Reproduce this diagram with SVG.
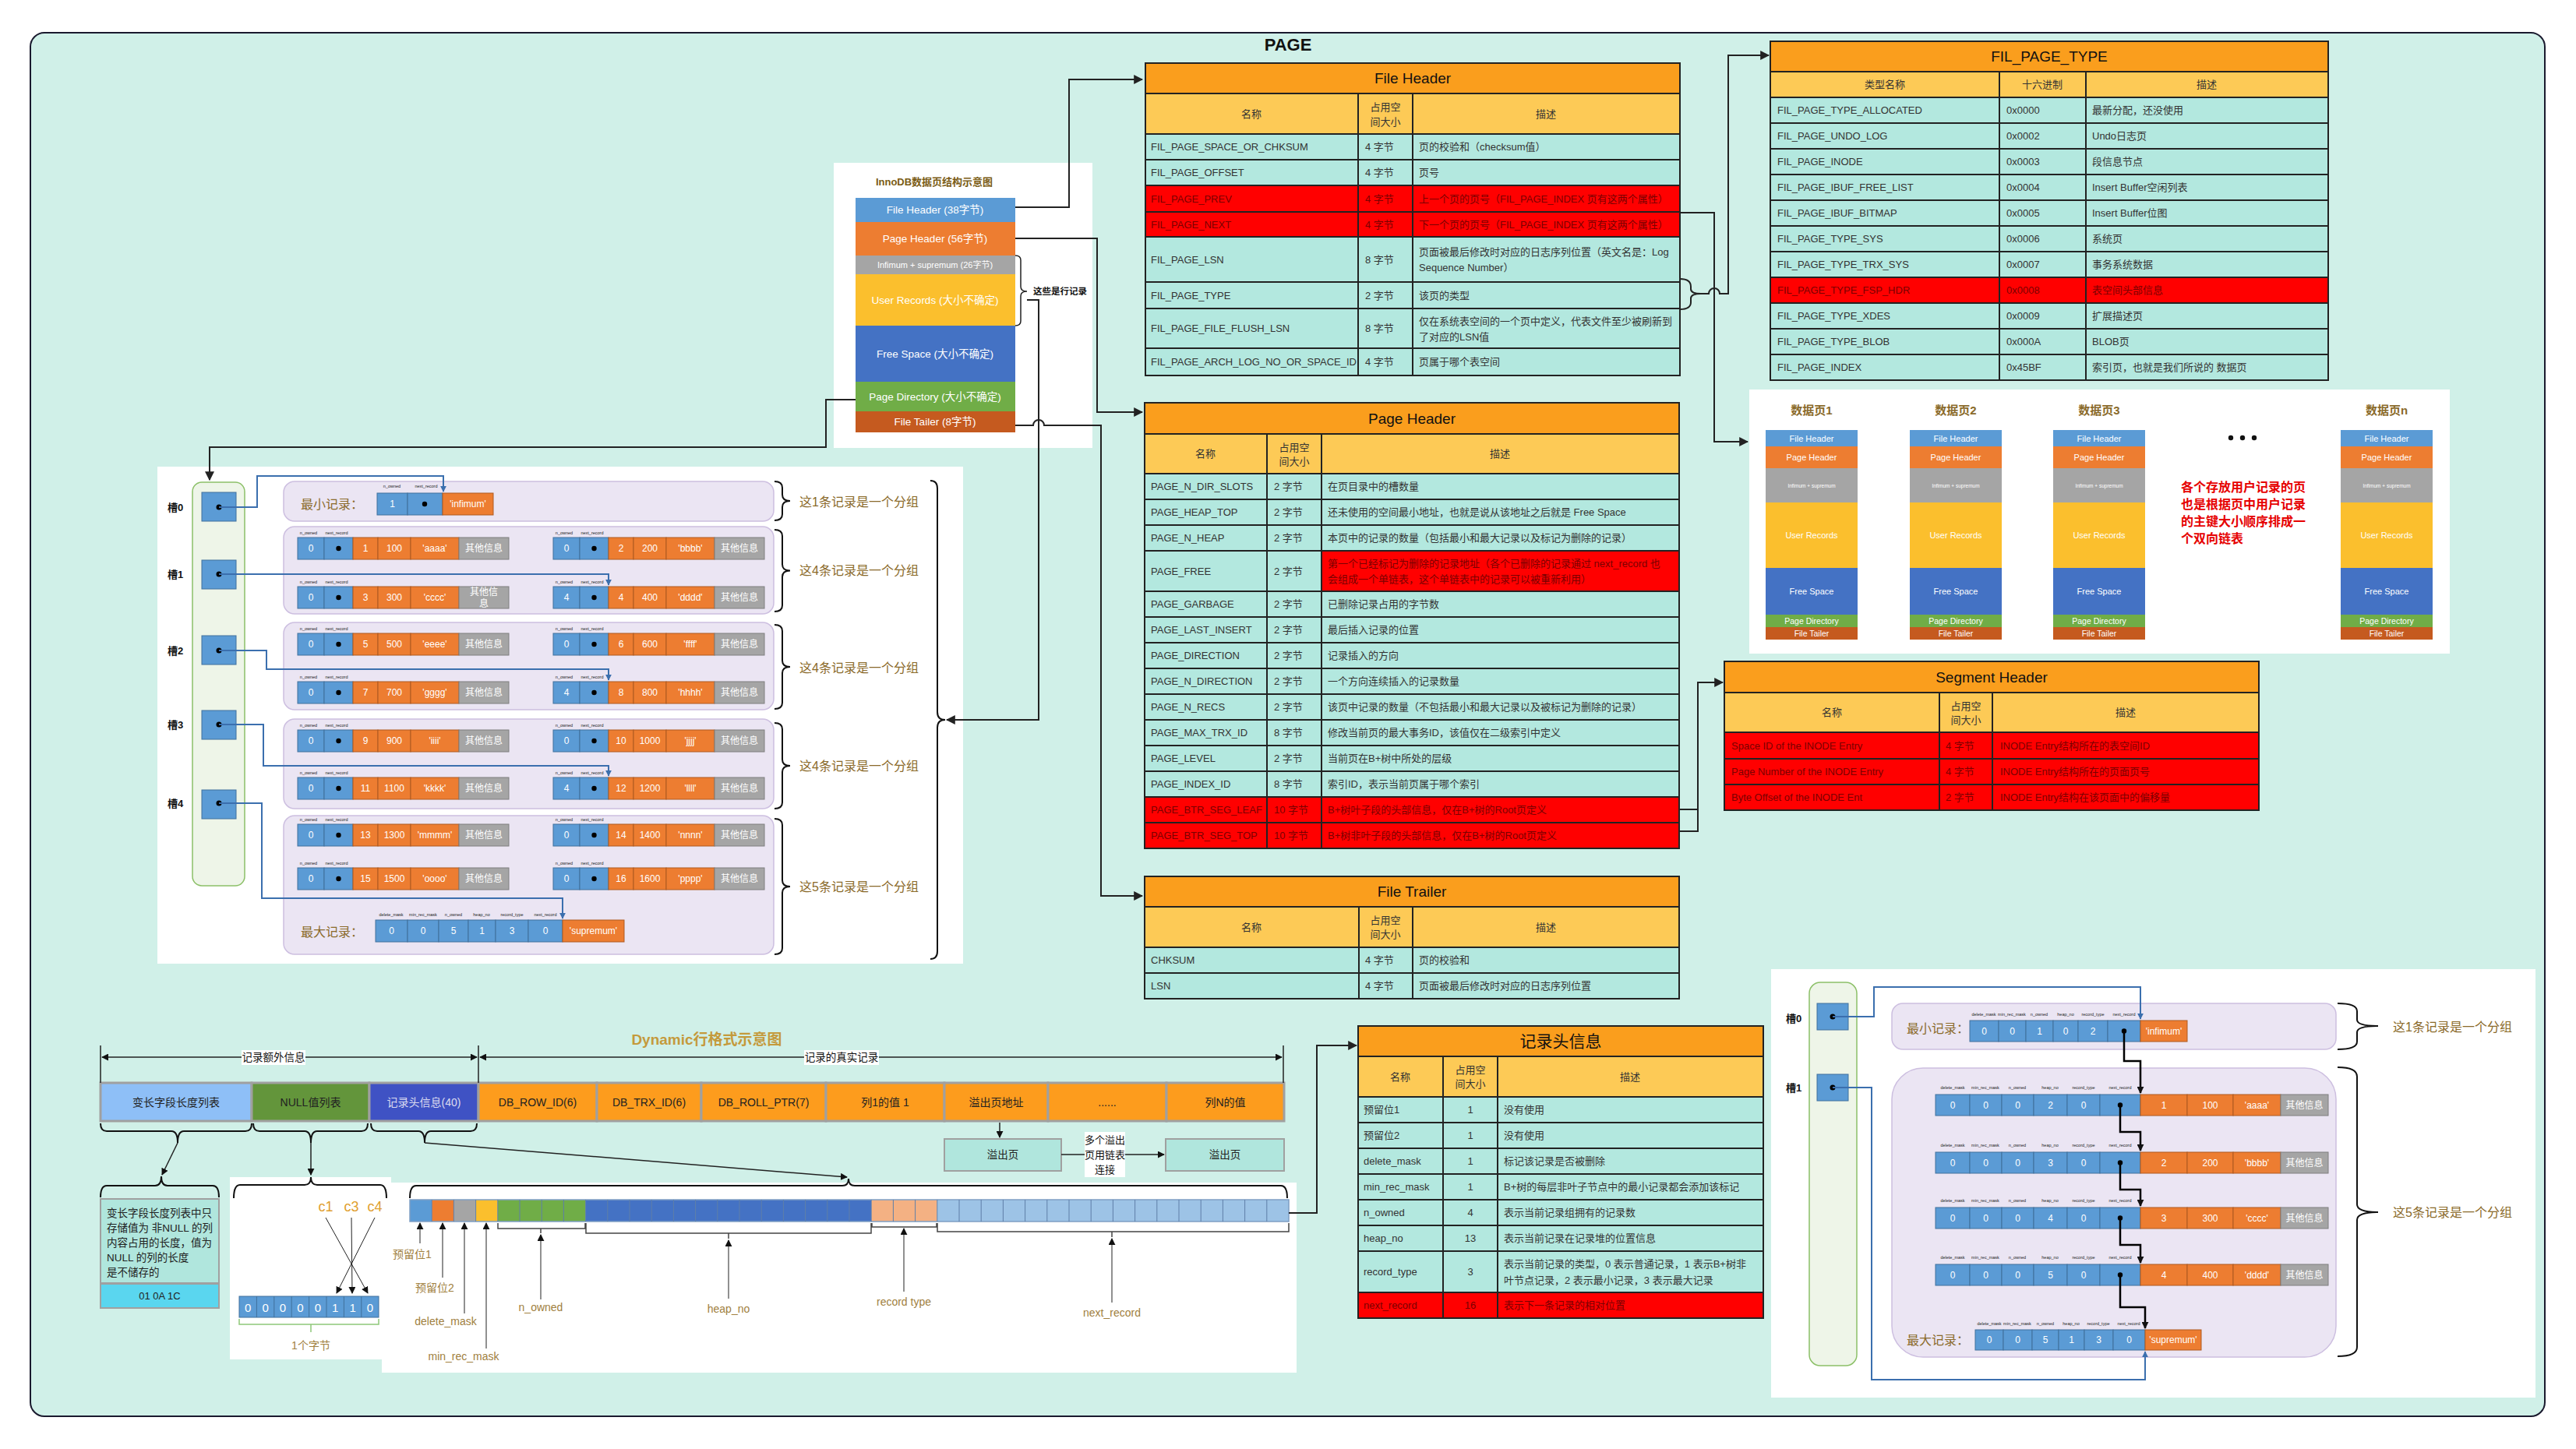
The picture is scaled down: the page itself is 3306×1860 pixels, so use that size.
<svg xmlns="http://www.w3.org/2000/svg" width="3306" height="1860" viewBox="0 0 3306 1860">
<style>
text{font-family:"Liberation Sans","Noto Sans CJK SC",sans-serif;}
.tt{fill:#fa9e1d;stroke:#222;stroke-width:2}
.th{fill:#fdca56;stroke:#222;stroke-width:2}
.td{fill:#b3e8df;stroke:#222;stroke-width:2}
.tr{fill:#ff0000;stroke:#222;stroke-width:2}
.gl{stroke:#222;stroke-width:2;fill:none}
.ttl{font-size:19px;fill:#111;text-anchor:middle;dominant-baseline:central}
.c{font-size:13px;fill:#333;dominant-baseline:central}
.cm{font-size:13px;fill:#333;text-anchor:middle;dominant-baseline:central}
.cr{font-size:13px;fill:#7a0000;dominant-baseline:central}
.crm{font-size:13px;fill:#7a0000;text-anchor:middle;dominant-baseline:central}
.cn{fill:none;stroke:#222;stroke-width:2}
.bp{fill:none;stroke:#3b6fae;stroke-width:2}
.kp{fill:none;stroke:#000;stroke-width:2.5}
.rb{fill:#5b9bd5;stroke:#41719c;stroke-width:1}
.ro{fill:#ed7d31;stroke:#ae5a21;stroke-width:1}
.rg{fill:#a5a5a5;stroke:#7f7f7f;stroke-width:1}
.rt{font-size:12px;fill:#fff;text-anchor:middle;dominant-baseline:central}
.tiny{font-size:5.5px;fill:#222;text-anchor:middle}
.grp{fill:#ebe5f3;stroke:#cdbfe0;stroke-width:1.5}
.lbl{font-size:16px;fill:#8a6a2a;dominant-baseline:central}
.br{fill:none;stroke:#111;stroke-width:2}
.slotcol{fill:#eef5e8;stroke:#8cc068;stroke-width:1.5}
.slot{fill:#5b9bd5;stroke:#41719c;stroke-width:1}
.sl{font-size:13px;font-weight:bold;fill:#111;text-anchor:middle;dominant-baseline:central}
.pw{font-size:11px;fill:#fff;text-anchor:middle;dominant-baseline:central}
.pwl{font-size:13.5px;fill:#fff;text-anchor:middle;dominant-baseline:central}
.pws{font-size:6.5px;fill:#fff;text-anchor:middle;dominant-baseline:central}
.pwm{font-size:10.5px;fill:#fff;text-anchor:middle;dominant-baseline:central}
.bar{stroke:#a0a0a0;stroke-width:3}
.bt{font-size:14px;fill:#222;text-anchor:middle;dominant-baseline:central}
.gold{font-size:14px;fill:#a08040;text-anchor:middle;dominant-baseline:central}
.thin{fill:none;stroke:#222;stroke-width:1.5}
.hair{fill:none;stroke:#222;stroke-width:1}
</style>
<defs>
<marker id="ah" viewBox="0 0 10 10" refX="9" refY="5" markerWidth="12" markerHeight="12" markerUnits="userSpaceOnUse" orient="auto-start-reverse"><path d="M0 0L10 5L0 10z" fill="#222"/></marker>
<marker id="ahs" viewBox="0 0 10 10" refX="9" refY="5" markerWidth="9" markerHeight="9" markerUnits="userSpaceOnUse" orient="auto-start-reverse"><path d="M0 0L10 5L0 10z" fill="#111"/></marker>
<marker id="ahb" viewBox="0 0 10 10" refX="9" refY="5" markerWidth="8" markerHeight="8" markerUnits="userSpaceOnUse" orient="auto"><path d="M0 0L10 5L0 10z" fill="#3b6fae"/></marker>
<g id="recA">
<rect class="rb" width="34" height="28"/><rect class="rb" x="34" width="37" height="28"/>
<rect class="ro" x="71" width="32" height="28"/><rect class="ro" x="103" width="42" height="28"/><rect class="ro" x="145" width="62" height="28"/>
<rect class="rg" x="207" width="64" height="28"/>
<circle cx="52.5" cy="14" r="3.2" fill="#000"/>
<text class="tiny" x="14" y="-4">n_owned</text><text class="tiny" x="50" y="-4">next_record</text>
</g>
<g id="recB">
<rect class="rb" width="44" height="27"/><rect class="rb" x="44" width="41" height="27"/><rect class="rb" x="85" width="41" height="27"/><rect class="rb" x="126" width="43" height="27"/><rect class="rb" x="169" width="42" height="27"/><rect class="rb" x="211" width="52" height="27"/>
<rect class="ro" x="263" width="60" height="27"/><rect class="ro" x="323" width="59" height="27"/><rect class="ro" x="382" width="61" height="27"/>
<rect class="rg" x="443" width="61" height="27"/>
<circle cx="237" cy="13.5" r="3.2" fill="#000"/>
<text class="tiny" x="22" y="-7">delete_mask</text><text class="tiny" x="64" y="-7">min_rec_mask</text><text class="tiny" x="105" y="-7">n_owned</text><text class="tiny" x="147" y="-7">heap_no</text><text class="tiny" x="190" y="-7">record_type</text><text class="tiny" x="237" y="-7">next_record</text>
</g>
</defs>

<rect width="3306" height="1860" fill="#fff"/>
<rect x="39" y="42" width="3227" height="1776" rx="18" fill="#d0f0e8" stroke="#1a1a2e" stroke-width="2"/>
<text x="1653" y="57" font-size="22" font-weight="bold" fill="#111" text-anchor="middle" dominant-baseline="central">PAGE</text>

<!-- InnoDB page structure -->
<g id="innodb-structure">
<rect x="1070" y="209" width="332" height="366" fill="#fff"/>
<text x="1199" y="233" font-size="13" font-weight="bold" fill="#7a5b14" text-anchor="middle" dominant-baseline="central">InnoDB数据页结构示意图</text>
<rect x="1098" y="254" width="205" height="31" fill="#5b9bd5"/>
<text class="pwl" x="1200" y="269.5">File Header (38字节)</text>
<rect x="1098" y="285" width="205" height="43" fill="#ed7d31"/>
<text class="pwl" x="1200" y="306.5">Page Header (56字节)</text>
<rect x="1098" y="328" width="205" height="24" fill="#a5a5a5"/>
<text class="pw" x="1200" y="340">Infimum + supremum (26字节)</text>
<rect x="1098" y="352" width="205" height="66" fill="#fbbf2d"/>
<text class="pwl" x="1200" y="385">User Records (大小不确定)</text>
<rect x="1098" y="418" width="205" height="72" fill="#4472c4"/>
<text class="pwl" x="1200" y="454">Free Space (大小不确定)</text>
<rect x="1098" y="490" width="205" height="38" fill="#70ad47"/>
<text class="pwl" x="1200" y="509">Page Directory (大小不确定)</text>
<rect x="1098" y="528" width="205" height="27" fill="#c55a1f"/>
<text class="pwl" x="1200" y="541.5">File Tailer (8字节)</text>
<path class="thin" d="M1303 328 Q1310 328 1310 334 V368 Q1310 374 1318 374 Q1310 374 1310 380 V412 Q1310 418 1303 418"/>
<text x="1326" y="374" font-size="11.5" font-weight="bold" fill="#111" dominant-baseline="central">这些是行记录</text>
</g>

<!-- File Header table -->
<g id="file-header">
<rect class="tt" x="1470" y="81" width="686" height="39"/>
<text class="ttl" x="1813" y="100.5">File Header</text>
<rect class="th" x="1470" y="120" width="686" height="52"/>
<text class="cm" x="1606" y="146">名称</text><text class="cm" x="1778" y="137">占用空</text><text class="cm" x="1778" y="156">间大小</text><text class="cm" x="1984" y="146">描述</text>
<rect class="td" x="1470" y="172" width="686" height="33"/>
<rect class="td" x="1470" y="205" width="686" height="33"/>
<rect class="tr" x="1470" y="238" width="686" height="34"/>
<rect class="tr" x="1470" y="272" width="686" height="32"/>
<rect class="td" x="1470" y="304" width="686" height="58"/>
<rect class="td" x="1470" y="362" width="686" height="34"/>
<rect class="td" x="1470" y="396" width="686" height="51"/>
<rect class="td" x="1470" y="447" width="686" height="35"/>
<path class="gl" d="M1743 120V482M1813 120V482"/>
<text class="c" x="1477" y="188.5">FIL_PAGE_SPACE_OR_CHKSUM</text><text class="c" x="1752" y="188.5">4 字节</text><text class="c" x="1821" y="188.5">页的校验和（checksum值）</text>
<text class="c" x="1477" y="221.5">FIL_PAGE_OFFSET</text><text class="c" x="1752" y="221.5">4 字节</text><text class="c" x="1821" y="221.5">页号</text>
<text class="cr" x="1477" y="255">FIL_PAGE_PREV</text><text class="cr" x="1752" y="255">4 字节</text><text class="cr" x="1821" y="255">上一个页的页号（FIL_PAGE_INDEX 页有这两个属性）</text>
<text class="cr" x="1477" y="288">FIL_PAGE_NEXT</text><text class="cr" x="1752" y="288">4 字节</text><text class="cr" x="1821" y="288">下一个页的页号（FIL_PAGE_INDEX 页有这两个属性）</text>
<text class="c" x="1477" y="333">FIL_PAGE_LSN</text><text class="c" x="1752" y="333">8 字节</text><text class="c" x="1821" y="323">页面被最后修改时对应的日志序列位置（英文名是：Log</text><text class="c" x="1821" y="343">Sequence Number）</text>
<text class="c" x="1477" y="379">FIL_PAGE_TYPE</text><text class="c" x="1752" y="379">2 字节</text><text class="c" x="1821" y="379">该页的类型</text>
<text class="c" x="1477" y="421.5">FIL_PAGE_FILE_FLUSH_LSN</text><text class="c" x="1752" y="421.5">8 字节</text><text class="c" x="1821" y="412">仅在系统表空间的一个页中定义，代表文件至少被刷新到</text><text class="c" x="1821" y="432">了对应的LSN值</text>
<text class="c" x="1477" y="464.5">FIL_PAGE_ARCH_LOG_NO_OR_SPACE_ID</text><text class="c" x="1752" y="464.5">4 字节</text><text class="c" x="1821" y="464.5">页属于哪个表空间</text>
</g>

<!-- FIL_PAGE_TYPE table -->
<g id="fil-page-type">
<rect class="tt" x="2272" y="53" width="716" height="39"/>
<text class="ttl" x="2630" y="72.5">FIL_PAGE_TYPE</text>
<rect class="th" x="2272" y="92" width="716" height="33"/>
<text class="cm" x="2419" y="108.5">类型名称</text><text class="cm" x="2621" y="108.5">十六进制</text><text class="cm" x="2832" y="108.5">描述</text>
<rect class="td" x="2272" y="125" width="716" height="33"/>
<rect class="td" x="2272" y="158" width="716" height="33"/>
<rect class="td" x="2272" y="191" width="716" height="33"/>
<rect class="td" x="2272" y="224" width="716" height="33"/>
<rect class="td" x="2272" y="257" width="716" height="33"/>
<rect class="td" x="2272" y="290" width="716" height="33"/>
<rect class="td" x="2272" y="323" width="716" height="33"/>
<rect class="tr" x="2272" y="356" width="716" height="33"/>
<rect class="td" x="2272" y="389" width="716" height="33"/>
<rect class="td" x="2272" y="422" width="716" height="33"/>
<rect class="td" x="2272" y="455" width="716" height="33"/>
<path class="gl" d="M2566 92V488M2677 92V488"/>
<text class="c" x="2281" y="141.5">FIL_PAGE_TYPE_ALLOCATED</text><text class="c" x="2575" y="141.5">0x0000</text><text class="c" x="2685" y="141.5">最新分配，还没使用</text>
<text class="c" x="2281" y="174.5">FIL_PAGE_UNDO_LOG</text><text class="c" x="2575" y="174.5">0x0002</text><text class="c" x="2685" y="174.5">Undo日志页</text>
<text class="c" x="2281" y="207.5">FIL_PAGE_INODE</text><text class="c" x="2575" y="207.5">0x0003</text><text class="c" x="2685" y="207.5">段信息节点</text>
<text class="c" x="2281" y="240.5">FIL_PAGE_IBUF_FREE_LIST</text><text class="c" x="2575" y="240.5">0x0004</text><text class="c" x="2685" y="240.5">Insert Buffer空闲列表</text>
<text class="c" x="2281" y="273.5">FIL_PAGE_IBUF_BITMAP</text><text class="c" x="2575" y="273.5">0x0005</text><text class="c" x="2685" y="273.5">Insert Buffer位图</text>
<text class="c" x="2281" y="306.5">FIL_PAGE_TYPE_SYS</text><text class="c" x="2575" y="306.5">0x0006</text><text class="c" x="2685" y="306.5">系统页</text>
<text class="c" x="2281" y="339.5">FIL_PAGE_TYPE_TRX_SYS</text><text class="c" x="2575" y="339.5">0x0007</text><text class="c" x="2685" y="339.5">事务系统数据</text>
<text class="cr" x="2281" y="372.5">FIL_PAGE_TYPE_FSP_HDR</text><text class="cr" x="2575" y="372.5">0x0008</text><text class="cr" x="2685" y="372.5">表空间头部信息</text>
<text class="c" x="2281" y="405.5">FIL_PAGE_TYPE_XDES</text><text class="c" x="2575" y="405.5">0x0009</text><text class="c" x="2685" y="405.5">扩展描述页</text>
<text class="c" x="2281" y="438.5">FIL_PAGE_TYPE_BLOB</text><text class="c" x="2575" y="438.5">0x000A</text><text class="c" x="2685" y="438.5">BLOB页</text>
<text class="c" x="2281" y="471.5">FIL_PAGE_INDEX</text><text class="c" x="2575" y="471.5">0x45BF</text><text class="c" x="2685" y="471.5">索引页，也就是我们所说的 数据页</text>
</g>

<!-- Page Header table -->
<g id="page-header">
<rect class="tt" x="1469" y="517" width="686" height="40"/>
<text class="ttl" x="1812" y="537">Page Header</text>
<rect class="th" x="1469" y="557" width="686" height="51"/>
<text class="cm" x="1547" y="582.5">名称</text><text class="cm" x="1661" y="574">占用空</text><text class="cm" x="1661" y="592">间大小</text><text class="cm" x="1925" y="582.5">描述</text>
<rect class="td" x="1469" y="608" width="686" height="33"/>
<rect class="td" x="1469" y="641" width="686" height="33"/>
<rect class="td" x="1469" y="674" width="686" height="33"/>
<rect class="td" x="1469" y="707" width="686" height="52"/>
<rect class="tr" x="1696" y="707" width="459" height="52"/>
<rect class="td" x="1469" y="759" width="686" height="33"/>
<rect class="td" x="1469" y="792" width="686" height="33"/>
<rect class="td" x="1469" y="825" width="686" height="33"/>
<rect class="td" x="1469" y="858" width="686" height="33"/>
<rect class="td" x="1469" y="891" width="686" height="33"/>
<rect class="td" x="1469" y="924" width="686" height="33"/>
<rect class="td" x="1469" y="957" width="686" height="33"/>
<rect class="td" x="1469" y="990" width="686" height="33"/>
<rect class="tr" x="1469" y="1023" width="686" height="33"/>
<rect class="tr" x="1469" y="1056" width="686" height="33"/>
<path class="gl" d="M1626 557V1089M1696 557V1089"/>
<text class="c" x="1477" y="624.5">PAGE_N_DIR_SLOTS</text><text class="c" x="1635" y="624.5">2 字节</text><text class="c" x="1704" y="624.5">在页目录中的槽数量</text>
<text class="c" x="1477" y="657.5">PAGE_HEAP_TOP</text><text class="c" x="1635" y="657.5">2 字节</text><text class="c" x="1704" y="657.5">还未使用的空间最小地址，也就是说从该地址之后就是 Free Space</text>
<text class="c" x="1477" y="690.5">PAGE_N_HEAP</text><text class="c" x="1635" y="690.5">2 字节</text><text class="c" x="1704" y="690.5">本页中的记录的数量（包括最小和最大记录以及标记为删除的记录）</text>
<text class="c" x="1477" y="733">PAGE_FREE</text><text class="c" x="1635" y="733">2 字节</text><text class="cr" x="1704" y="723">第一个已经标记为删除的记录地址（各个已删除的记录通过 next_record 也</text><text class="cr" x="1704" y="743">会组成一个单链表，这个单链表中的记录可以被重新利用）</text>
<text class="c" x="1477" y="775.5">PAGE_GARBAGE</text><text class="c" x="1635" y="775.5">2 字节</text><text class="c" x="1704" y="775.5">已删除记录占用的字节数</text>
<text class="c" x="1477" y="808.5">PAGE_LAST_INSERT</text><text class="c" x="1635" y="808.5">2 字节</text><text class="c" x="1704" y="808.5">最后插入记录的位置</text>
<text class="c" x="1477" y="841.5">PAGE_DIRECTION</text><text class="c" x="1635" y="841.5">2 字节</text><text class="c" x="1704" y="841.5">记录插入的方向</text>
<text class="c" x="1477" y="874.5">PAGE_N_DIRECTION</text><text class="c" x="1635" y="874.5">2 字节</text><text class="c" x="1704" y="874.5">一个方向连续插入的记录数量</text>
<text class="c" x="1477" y="907.5">PAGE_N_RECS</text><text class="c" x="1635" y="907.5">2 字节</text><text class="c" x="1704" y="907.5">该页中记录的数量（不包括最小和最大记录以及被标记为删除的记录）</text>
<text class="c" x="1477" y="940.5">PAGE_MAX_TRX_ID</text><text class="c" x="1635" y="940.5">8 字节</text><text class="c" x="1704" y="940.5">修改当前页的最大事务ID，该值仅在二级索引中定义</text>
<text class="c" x="1477" y="973.5">PAGE_LEVEL</text><text class="c" x="1635" y="973.5">2 字节</text><text class="c" x="1704" y="973.5">当前页在B+树中所处的层级</text>
<text class="c" x="1477" y="1006.5">PAGE_INDEX_ID</text><text class="c" x="1635" y="1006.5">8 字节</text><text class="c" x="1704" y="1006.5">索引ID，表示当前页属于哪个索引</text>
<text class="cr" x="1477" y="1039.5">PAGE_BTR_SEG_LEAF</text><text class="cr" x="1635" y="1039.5">10 字节</text><text class="cr" x="1704" y="1039.5">B+树叶子段的头部信息，仅在B+树的Root页定义</text>
<text class="cr" x="1477" y="1072.5">PAGE_BTR_SEG_TOP</text><text class="cr" x="1635" y="1072.5">10 字节</text><text class="cr" x="1704" y="1072.5">B+树非叶子段的头部信息，仅在B+树的Root页定义</text>
</g>

<!-- File Trailer table -->
<g id="file-trailer">
<rect class="tt" x="1469" y="1125" width="686" height="39"/>
<text class="ttl" x="1812" y="1144.5">File Trailer</text>
<rect class="th" x="1469" y="1164" width="686" height="52"/>
<text class="cm" x="1606" y="1190">名称</text><text class="cm" x="1778" y="1181">占用空</text><text class="cm" x="1778" y="1199">间大小</text><text class="cm" x="1984" y="1190">描述</text>
<rect class="td" x="1469" y="1216" width="686" height="33"/>
<rect class="td" x="1469" y="1249" width="686" height="33"/>
<path class="gl" d="M1744 1164V1282M1813 1164V1282"/>
<text class="c" x="1477" y="1232.5">CHKSUM</text><text class="c" x="1752" y="1232.5">4 字节</text><text class="c" x="1821" y="1232.5">页的校验和</text>
<text class="c" x="1477" y="1265.5">LSN</text><text class="c" x="1752" y="1265.5">4 字节</text><text class="c" x="1821" y="1265.5">页面被最后修改时对应的日志序列位置</text>
</g>

<!-- Record header info table -->
<g id="record-header-info">
<rect class="tt" x="1743" y="1317" width="520" height="39"/>
<text class="ttl" x="2003" y="1336.5" style="font-size:21px">记录头信息</text>
<rect class="th" x="1743" y="1356" width="520" height="52"/>
<text class="cm" x="1797" y="1382">名称</text><text class="cm" x="1887" y="1373">占用空</text><text class="cm" x="1887" y="1391">间大小</text><text class="cm" x="2092" y="1382">描述</text>
<rect class="td" x="1743" y="1408" width="520" height="33"/>
<rect class="td" x="1743" y="1441" width="520" height="33"/>
<rect class="td" x="1743" y="1474" width="520" height="33"/>
<rect class="td" x="1743" y="1507" width="520" height="33"/>
<rect class="td" x="1743" y="1540" width="520" height="33"/>
<rect class="td" x="1743" y="1573" width="520" height="33"/>
<rect class="td" x="1743" y="1606" width="520" height="53"/>
<rect class="tr" x="1743" y="1659" width="520" height="33"/>
<path class="gl" d="M1852 1356V1692M1922 1356V1692"/>
<text class="c" x="1750" y="1424.5">预留位1</text><text class="cm" x="1887" y="1424.5">1</text><text class="c" x="1930" y="1424.5">没有使用</text>
<text class="c" x="1750" y="1457.5">预留位2</text><text class="cm" x="1887" y="1457.5">1</text><text class="c" x="1930" y="1457.5">没有使用</text>
<text class="c" x="1750" y="1490.5">delete_mask</text><text class="cm" x="1887" y="1490.5">1</text><text class="c" x="1930" y="1490.5">标记该记录是否被删除</text>
<text class="c" x="1750" y="1523.5">min_rec_mask</text><text class="cm" x="1887" y="1523.5">1</text><text class="c" x="1930" y="1523.5">B+树的每层非叶子节点中的最小记录都会添加该标记</text>
<text class="c" x="1750" y="1556.5">n_owned</text><text class="cm" x="1887" y="1556.5">4</text><text class="c" x="1930" y="1556.5">表示当前记录组拥有的记录数</text>
<text class="c" x="1750" y="1589.5">heap_no</text><text class="cm" x="1887" y="1589.5">13</text><text class="c" x="1930" y="1589.5">表示当前记录在记录堆的位置信息</text>
<text class="c" x="1750" y="1632.5">record_type</text><text class="cm" x="1887" y="1632.5">3</text><text class="c" x="1930" y="1622">表示当前记录的类型，0 表示普通记录，1 表示B+树非</text><text class="c" x="1930" y="1643">叶节点记录，2 表示最小记录，3 表示最大记录</text>
<text class="cr" x="1750" y="1675.5">next_record</text><text class="crm" x="1887" y="1675.5">16</text><text class="cr" x="1930" y="1675.5">表示下一条记录的相对位置</text>
</g>

<!-- Segment Header table -->
<g id="segment-header">
<rect class="tt" x="2213" y="849" width="686" height="40"/>
<text class="ttl" x="2556" y="869">Segment Header</text>
<rect class="th" x="2213" y="889" width="686" height="51"/>
<text class="cm" x="2351" y="914.5">名称</text><text class="cm" x="2523" y="906">占用空</text><text class="cm" x="2523" y="924">间大小</text><text class="cm" x="2728" y="914.5">描述</text>
<rect class="tr" x="2213" y="940" width="686" height="34"/>
<rect class="tr" x="2213" y="974" width="686" height="33"/>
<rect class="tr" x="2213" y="1007" width="686" height="33"/>
<path class="gl" d="M2489 889V1040M2557 889V1040"/>
<text class="cr" x="2222" y="957">Space ID of the INODE Entry</text><text class="cr" x="2497" y="957">4 字节</text><text class="cr" x="2567" y="957">INODE Entry结构所在的表空间ID</text>
<text class="cr" x="2222" y="990.5">Page Number of the INODE Entry</text><text class="cr" x="2497" y="990.5">4 字节</text><text class="cr" x="2567" y="990.5">INODE Entry结构所在的页面页号</text>
<text class="cr" x="2222" y="1023.5">Byte Offset of the INODE Ent</text><text class="cr" x="2497" y="1023.5">2 字节</text><text class="cr" x="2567" y="1023.5">INODE Entry结构在该页面中的偏移量</text>
</g>

<!-- Page list -->
<g id="page-list">
<rect x="2245" y="500" width="899" height="339" fill="#fff"/>
<g font-size="15" font-weight="bold" fill="#8a6a2a" text-anchor="middle">
<text x="2325" y="532">数据页1</text><text x="2510" y="532">数据页2</text><text x="2694" y="532">数据页3</text><text x="3063" y="532">数据页n</text>
</g>
<g id="page1">
<rect x="2266" y="552" width="118" height="21" fill="#5b9bd5"/><rect x="2266" y="573" width="118" height="28" fill="#ed7d31"/><rect x="2266" y="601" width="118" height="44" fill="#a5a5a5"/><rect x="2266" y="645" width="118" height="84" fill="#fbbf2d"/><rect x="2266" y="729" width="118" height="60" fill="#4472c4"/><rect x="2266" y="789" width="118" height="16" fill="#70ad47"/><rect x="2266" y="805" width="118" height="16" fill="#c55a1f"/>
<text class="pw" x="2325" y="562.5">File Header</text><text class="pw" x="2325" y="587">Page Header</text><text class="pws" x="2325" y="623">Infimum + supremum</text><text class="pw" x="2325" y="687">User Records</text><text class="pw" x="2325" y="759">Free Space</text><text class="pwm" x="2325" y="797">Page Directory</text><text class="pwm" x="2325" y="813">File Tailer</text>
</g>
<g id="page2">
<rect x="2451" y="552" width="118" height="21" fill="#5b9bd5"/><rect x="2451" y="573" width="118" height="28" fill="#ed7d31"/><rect x="2451" y="601" width="118" height="44" fill="#a5a5a5"/><rect x="2451" y="645" width="118" height="84" fill="#fbbf2d"/><rect x="2451" y="729" width="118" height="60" fill="#4472c4"/><rect x="2451" y="789" width="118" height="16" fill="#70ad47"/><rect x="2451" y="805" width="118" height="16" fill="#c55a1f"/>
<text class="pw" x="2510" y="562.5">File Header</text><text class="pw" x="2510" y="587">Page Header</text><text class="pws" x="2510" y="623">Infimum + supremum</text><text class="pw" x="2510" y="687">User Records</text><text class="pw" x="2510" y="759">Free Space</text><text class="pwm" x="2510" y="797">Page Directory</text><text class="pwm" x="2510" y="813">File Tailer</text>
</g>
<g id="page3">
<rect x="2635" y="552" width="118" height="21" fill="#5b9bd5"/><rect x="2635" y="573" width="118" height="28" fill="#ed7d31"/><rect x="2635" y="601" width="118" height="44" fill="#a5a5a5"/><rect x="2635" y="645" width="118" height="84" fill="#fbbf2d"/><rect x="2635" y="729" width="118" height="60" fill="#4472c4"/><rect x="2635" y="789" width="118" height="16" fill="#70ad47"/><rect x="2635" y="805" width="118" height="16" fill="#c55a1f"/>
<text class="pw" x="2694" y="562.5">File Header</text><text class="pw" x="2694" y="587">Page Header</text><text class="pws" x="2694" y="623">Infimum + supremum</text><text class="pw" x="2694" y="687">User Records</text><text class="pw" x="2694" y="759">Free Space</text><text class="pwm" x="2694" y="797">Page Directory</text><text class="pwm" x="2694" y="813">File Tailer</text>
</g>
<g id="pagen">
<rect x="3004" y="552" width="118" height="21" fill="#5b9bd5"/><rect x="3004" y="573" width="118" height="28" fill="#ed7d31"/><rect x="3004" y="601" width="118" height="44" fill="#a5a5a5"/><rect x="3004" y="645" width="118" height="84" fill="#fbbf2d"/><rect x="3004" y="729" width="118" height="60" fill="#4472c4"/><rect x="3004" y="789" width="118" height="16" fill="#70ad47"/><rect x="3004" y="805" width="118" height="16" fill="#c55a1f"/>
<text class="pw" x="3063" y="562.5">File Header</text><text class="pw" x="3063" y="587">Page Header</text><text class="pws" x="3063" y="623">Infimum + supremum</text><text class="pw" x="3063" y="687">User Records</text><text class="pw" x="3063" y="759">Free Space</text><text class="pwm" x="3063" y="797">Page Directory</text><text class="pwm" x="3063" y="813">File Tailer</text>
</g>
<circle cx="2863" cy="562" r="3.2" fill="#111"/><circle cx="2878" cy="562" r="3.2" fill="#111"/><circle cx="2893" cy="562" r="3.2" fill="#111"/>
<g font-size="16" font-weight="bold" fill="#e60000">
<text x="2799" y="631">各个存放用户记录的页</text><text x="2799" y="653">也是根据页中用户记录</text><text x="2799" y="675">的主键大小顺序排成一</text><text x="2799" y="697">个双向链表</text>
</g>
</g>

<!-- Left: page directory slots and groups -->
<g id="slot-groups">
<rect x="202" y="599" width="1034" height="638" fill="#fff"/>
<rect class="slotcol" x="247" y="619" width="67" height="518" rx="12"/>
<g id="slots">
<rect class="slot" x="259" y="632" width="44" height="37"/><circle cx="281" cy="651" r="3.5"/>
<rect class="slot" x="259" y="719" width="44" height="37"/><circle cx="281" cy="737" r="3.5"/>
<rect class="slot" x="259" y="816" width="44" height="37"/><circle cx="281" cy="835" r="3.5"/>
<rect class="slot" x="259" y="912" width="44" height="37"/><circle cx="281" cy="930" r="3.5"/>
<rect class="slot" x="259" y="1014" width="44" height="37"/><circle cx="281" cy="1031" r="3.5"/>
<text class="sl" x="225" y="651">槽0</text><text class="sl" x="225" y="737">槽1</text><text class="sl" x="225" y="835">槽2</text><text class="sl" x="225" y="930">槽3</text><text class="sl" x="225" y="1031">槽4</text>
</g>
<g id="group0">
<rect class="grp" x="364" y="618" width="629" height="51" rx="14"/>
<text class="lbl" x="386" y="647">最小记录：</text>
<rect class="rb" x="484" y="633" width="39" height="28"/><rect class="rb" x="523" y="633" width="45" height="28"/><rect class="ro" x="568" y="633" width="65" height="28"/>
<text class="rt" x="503.5" y="647">1</text><circle cx="545" cy="647" r="3.2"/><text class="rt" x="600.5" y="647">'infimum'</text>
<text class="tiny" x="503" y="626">n_owned</text><text class="tiny" x="547" y="626">next_record</text>
</g>
<g id="group1">
<rect class="grp" x="364" y="676" width="629" height="112" rx="14"/>
<use href="#recA" x="382" y="690"/><use href="#recA" x="710" y="690"/>
<use href="#recA" x="382" y="753"/><use href="#recA" x="710" y="753"/>
<g class="rt">
<text x="399" y="704">0</text><text x="469" y="704">1</text><text x="506" y="704">100</text><text x="558" y="704">'aaaa'</text><text x="621" y="704">其他信息</text>
<text x="727" y="704">0</text><text x="797" y="704">2</text><text x="834" y="704">200</text><text x="886" y="704">'bbbb'</text><text x="949" y="704">其他信息</text>
<text x="399" y="767">0</text><text x="469" y="767">3</text><text x="506" y="767">300</text><text x="558" y="767">'cccc'</text><text x="621" y="760">其他信</text><text x="621" y="775">息</text>
<text x="727" y="767">4</text><text x="797" y="767">4</text><text x="834" y="767">400</text><text x="886" y="767">'dddd'</text><text x="949" y="767">其他信息</text>
</g>
</g>
<g id="group2">
<rect class="grp" x="364" y="799" width="629" height="112" rx="14"/>
<use href="#recA" x="382" y="813"/><use href="#recA" x="710" y="813"/>
<use href="#recA" x="382" y="875"/><use href="#recA" x="710" y="875"/>
<g class="rt">
<text x="399" y="827">0</text><text x="469" y="827">5</text><text x="506" y="827">500</text><text x="558" y="827">'eeee'</text><text x="621" y="827">其他信息</text>
<text x="727" y="827">0</text><text x="797" y="827">6</text><text x="834" y="827">600</text><text x="886" y="827">'ffff'</text><text x="949" y="827">其他信息</text>
<text x="399" y="889">0</text><text x="469" y="889">7</text><text x="506" y="889">700</text><text x="558" y="889">'gggg'</text><text x="621" y="889">其他信息</text>
<text x="727" y="889">4</text><text x="797" y="889">8</text><text x="834" y="889">800</text><text x="886" y="889">'hhhh'</text><text x="949" y="889">其他信息</text>
</g>
</g>
<g id="group3">
<rect class="grp" x="364" y="923" width="629" height="115" rx="14"/>
<use href="#recA" x="382" y="937"/><use href="#recA" x="710" y="937"/>
<use href="#recA" x="382" y="998"/><use href="#recA" x="710" y="998"/>
<g class="rt">
<text x="399" y="951">0</text><text x="469" y="951">9</text><text x="506" y="951">900</text><text x="558" y="951">'iiii'</text><text x="621" y="951">其他信息</text>
<text x="727" y="951">0</text><text x="797" y="951">10</text><text x="834" y="951">1000</text><text x="886" y="951">'jjjj'</text><text x="949" y="951">其他信息</text>
<text x="399" y="1012">0</text><text x="469" y="1012">11</text><text x="506" y="1012">1100</text><text x="558" y="1012">'kkkk'</text><text x="621" y="1012">其他信息</text>
<text x="727" y="1012">4</text><text x="797" y="1012">12</text><text x="834" y="1012">1200</text><text x="886" y="1012">'llll'</text><text x="949" y="1012">其他信息</text>
</g>
</g>
<g id="group4">
<rect class="grp" x="364" y="1047" width="629" height="178" rx="14"/>
<use href="#recA" x="382" y="1058"/><use href="#recA" x="710" y="1058"/>
<use href="#recA" x="382" y="1114"/><use href="#recA" x="710" y="1114"/>
<g class="rt">
<text x="399" y="1072">0</text><text x="469" y="1072">13</text><text x="506" y="1072">1300</text><text x="558" y="1072">'mmmm'</text><text x="621" y="1072">其他信息</text>
<text x="727" y="1072">0</text><text x="797" y="1072">14</text><text x="834" y="1072">1400</text><text x="886" y="1072">'nnnn'</text><text x="949" y="1072">其他信息</text>
<text x="399" y="1128">0</text><text x="469" y="1128">15</text><text x="506" y="1128">1500</text><text x="558" y="1128">'oooo'</text><text x="621" y="1128">其他信息</text>
<text x="727" y="1128">0</text><text x="797" y="1128">16</text><text x="834" y="1128">1600</text><text x="886" y="1128">'pppp'</text><text x="949" y="1128">其他信息</text>
</g>
<text class="lbl" x="386" y="1196">最大记录：</text>
<rect class="rb" x="482" y="1181" width="41" height="28"/><rect class="rb" x="523" y="1181" width="40" height="28"/><rect class="rb" x="563" y="1181" width="38" height="28"/><rect class="rb" x="601" y="1181" width="35" height="28"/><rect class="rb" x="636" y="1181" width="42" height="28"/><rect class="rb" x="678" y="1181" width="44" height="28"/><rect class="ro" x="722" y="1181" width="79" height="28"/>
<g class="rt"><text x="502.5" y="1195">0</text><text x="543" y="1195">0</text><text x="582" y="1195">5</text><text x="618.5" y="1195">1</text><text x="657" y="1195">3</text><text x="700" y="1195">0</text><text x="761.5" y="1195">'supremum'</text></g>
<g class="tiny"><text x="502" y="1176">delete_mask</text><text x="543" y="1176">min_rec_mask</text><text x="582" y="1176">n_owned</text><text x="618" y="1176">heap_no</text><text x="657" y="1176">record_type</text><text x="700" y="1176">next_record</text></g>
</g>
<g id="group-braces">
<path class="br" d="M994 618Q1004 618 1004 626V635Q1004 643 1014 643Q1004 643 1004 651V660Q1004 668 994 668"/>
<path class="br" d="M994 680Q1004 680 1004 688V724.5Q1004 732.5 1014 732.5Q1004 732.5 1004 740.5V777Q1004 785 994 785"/>
<path class="br" d="M994 802Q1004 802 1004 810V848Q1004 856 1014 856Q1004 856 1004 864V902Q1004 910 994 910"/>
<path class="br" d="M994 928Q1004 928 1004 936V975Q1004 983 1014 983Q1004 983 1004 991V1030Q1004 1038 994 1038"/>
<path class="br" d="M994 1051Q1004 1051 1004 1059V1130Q1004 1138 1014 1138Q1004 1138 1004 1146V1217Q1004 1225 994 1225"/>
<path class="br" d="M1194 617Q1203 617 1203 627V914Q1203 924 1213 924Q1203 924 1203 934V1221Q1203 1231 1194 1231"/>
<text class="lbl" x="1026" y="644">这1条记录是一个分组</text>
<text class="lbl" x="1026" y="732">这4条记录是一个分组</text>
<text class="lbl" x="1026" y="857">这4条记录是一个分组</text>
<text class="lbl" x="1026" y="983">这4条记录是一个分组</text>
<text class="lbl" x="1026" y="1138">这5条记录是一个分组</text>
</g>
</g>

<!-- Dynamic row format -->
<g id="dynamic-row">
<text x="907" y="1334" font-size="19" font-weight="bold" fill="#c49a3c" text-anchor="middle" dominant-baseline="central">Dynamic行格式示意图</text>
<g id="row-bar">
<rect class="bar" x="129" y="1390" width="194" height="49" fill="#8ebff7"/>
<rect class="bar" x="323" y="1390" width="151" height="49" fill="#63953b"/>
<rect class="bar" x="474" y="1390" width="140" height="49" fill="#3f52c4"/>
<rect class="bar" x="614" y="1390" width="152" height="49" fill="#fd9c1d"/>
<rect class="bar" x="766" y="1390" width="134" height="49" fill="#fd9c1d"/>
<rect class="bar" x="900" y="1390" width="160" height="49" fill="#fd9c1d"/>
<rect class="bar" x="1060" y="1390" width="152" height="49" fill="#fd9c1d"/>
<rect class="bar" x="1212" y="1390" width="133" height="49" fill="#fd9c1d"/>
<rect class="bar" x="1345" y="1390" width="152" height="49" fill="#fd9c1d"/>
<rect class="bar" x="1497" y="1390" width="151" height="49" fill="#fd9c1d"/>
<text class="bt" x="226" y="1414.5">变长字段长度列表</text>
<text class="bt" x="398.5" y="1414.5">NULL值列表</text>
<text class="bt" x="544" y="1414.5" style="fill:#dcdcf0">记录头信息(40)</text>
<text class="bt" x="690" y="1414.5">DB_ROW_ID(6)</text>
<text class="bt" x="833" y="1414.5">DB_TRX_ID(6)</text>
<text class="bt" x="980" y="1414.5">DB_ROLL_PTR(7)</text>
<text class="bt" x="1136" y="1414.5">列1的值 1</text>
<text class="bt" x="1278.5" y="1414.5">溢出页地址</text>
<text class="bt" x="1421" y="1414.5">......</text>
<text class="bt" x="1572.5" y="1414.5">列N的值</text>
</g>
<path class="thin" d="M129 1342V1390M614 1342V1390M1647 1342V1390"/>
<path class="thin" d="M131 1357H612" marker-start="url(#ahs)" marker-end="url(#ahs)"/>
<path class="thin" d="M616 1357H1645" marker-start="url(#ahs)" marker-end="url(#ahs)"/>
<rect x="310" y="1348" width="82" height="19" fill="#fff"/>
<text x="351" y="1357.5" font-size="13.5" fill="#111" text-anchor="middle" dominant-baseline="central">记录额外信息</text>
<rect x="1032" y="1348" width="96" height="19" fill="#fff"/>
<text x="1080" y="1357.5" font-size="13.5" fill="#111" text-anchor="middle" dominant-baseline="central">记录的真实记录</text>
<g id="overflow-pages">
<rect x="1212" y="1462" width="150" height="41" fill="#b0e6dd" stroke="#a0a0a0" stroke-width="2"/>
<text class="bt" x="1287" y="1482.5" style="font-size:13.5px">溢出页</text>
<rect x="1496" y="1462" width="152" height="41" fill="#b0e6dd" stroke="#a0a0a0" stroke-width="2"/>
<text class="bt" x="1572" y="1482.5" style="font-size:13.5px">溢出页</text>
<path class="thin" d="M1283 1441V1460" marker-end="url(#ahs)"/>
<path class="thin" d="M1362 1482H1494" marker-end="url(#ahs)"/>
<rect x="1392" y="1453" width="52" height="58" fill="#fff"/>
<g font-size="13" fill="#111" text-anchor="middle" dominant-baseline="central"><text x="1418" y="1463">多个溢出</text><text x="1418" y="1482">页用链表</text><text x="1418" y="1501">连接</text></g>
</g>
<path class="br" d="M129 1442Q129 1452 137 1452H220Q228 1452 228 1467Q228 1452 236 1452H315Q323 1452 323 1442"/>
<path class="br" d="M325 1442Q325 1452 333 1452H391Q399 1452 399 1467Q399 1452 407 1452H464Q472 1452 472 1442"/>
<path class="br" d="M476 1442Q476 1452 484 1452H537Q545 1452 545 1467Q545 1452 553 1452H604Q612 1452 612 1442"/>
<path class="thin" d="M228 1467L208 1508" marker-end="url(#ahs)"/>
<path class="thin" d="M399 1467V1508" marker-end="url(#ahs)"/>
<path class="thin" d="M545 1467L1087 1511" marker-end="url(#ahs)"/>
<g id="varlen-note">
<path class="br" d="M129 1537Q129 1522 137 1522H199Q207 1522 207 1510Q207 1522 215 1522H273Q281 1522 281 1537"/>
<rect x="129" y="1539" width="152" height="108" fill="#b0e6dd" stroke="#a0a0a0" stroke-width="2"/>
<g font-size="13.5" fill="#222" dominant-baseline="central"><text x="137" y="1557">变长字段长度列表中只</text><text x="137" y="1576">存储值为 非NULL 的列</text><text x="137" y="1595">内容占用的长度，值为</text><text x="137" y="1614">NULL 的列的长度</text><text x="137" y="1633">是不储存的</text></g>
<rect x="129" y="1648" width="152" height="31" fill="#5ad6ef" stroke="#a0a0a0" stroke-width="2"/>
<text class="bt" x="205" y="1663.5" style="font-size:13px">01 0A 1C</text>
</g>
<g id="record-bits">
<rect x="490" y="1518" width="1174" height="244" fill="#fff"/>
<path class="br" d="M526 1538Q526 1522 534 1522H1081Q1089 1522 1089 1513Q1089 1522 1097 1522H1644Q1652 1522 1652 1538"/>
<rect x="526" y="1540" width="28.2" height="28" fill="#5b9bd5"/>
<rect x="554.2" y="1540" width="28.2" height="28" fill="#ed7d31"/>
<rect x="582.4" y="1540" width="28.2" height="28" fill="#a5a5a5"/>
<rect x="610.6" y="1540" width="28.2" height="28" fill="#fbbf2d"/>
<rect x="638.8" y="1540" width="112.8" height="28" fill="#70ad47"/>
<rect x="751.6" y="1540" width="366.6" height="28" fill="#4472c4"/>
<rect x="1118.2" y="1540" width="84.6" height="28" fill="#f4b183"/>
<rect x="1202.8" y="1540" width="451.2" height="28" fill="#9dc3e6"/>
<rect x="526" y="1540" width="1128" height="28" fill="none" stroke="#7f9fc4" stroke-width="1.5"/>
<path stroke="#5f7fa8" stroke-width="1" fill="none" d="M554.2 1540V1568M582.4 1540V1568M610.6 1540V1568M638.8 1540V1568M667 1540V1568M695.2 1540V1568M723.4 1540V1568M751.6 1540V1568M779.8 1540V1568M808 1540V1568M836.2 1540V1568M864.4 1540V1568M892.6 1540V1568M920.8 1540V1568M949 1540V1568M977.2 1540V1568M1005.4 1540V1568M1033.6 1540V1568M1061.8 1540V1568M1090 1540V1568M1118.2 1540V1568M1146.4 1540V1568M1174.6 1540V1568M1202.8 1540V1568M1231 1540V1568M1259.2 1540V1568M1287.4 1540V1568M1315.6 1540V1568M1343.8 1540V1568M1372 1540V1568M1400.2 1540V1568M1428.4 1540V1568M1456.6 1540V1568M1484.8 1540V1568M1513 1540V1568M1541.2 1540V1568M1569.4 1540V1568M1597.6 1540V1568M1625.8 1540V1568"/>
<path fill="none" stroke="#444" stroke-width="1.5" d="M639 1570V1577H751V1570M694 1577V1583M752 1570V1583H1118V1570M935 1583V1590M1119 1570V1575H1202V1570M1203 1570V1581H1654V1570M1427 1581V1588"/>
<path class="hair" d="M694 1668V1585" marker-end="url(#ahs)"/>
<path class="hair" d="M935 1667V1592" marker-end="url(#ahs)"/>
<path class="hair" d="M1160 1658V1577" marker-end="url(#ahs)"/>
<path class="hair" d="M1427 1672V1590" marker-end="url(#ahs)"/>
<path class="hair" d="M539 1596V1570" marker-end="url(#ahs)"/>
<path class="hair" d="M568 1640V1570" marker-end="url(#ahs)"/>
<path class="hair" d="M596 1686V1570" marker-end="url(#ahs)"/>
<path class="hair" d="M624 1731V1570" marker-end="url(#ahs)"/>
<text class="gold" x="529" y="1610">预留位1</text>
<text class="gold" x="558" y="1653">预留位2</text>
<text class="gold" x="572" y="1696">delete_mask</text>
<text class="gold" x="595" y="1741">min_rec_mask</text>
<text class="gold" x="694" y="1678">n_owned</text>
<text class="gold" x="935" y="1680">heap_no</text>
<text class="gold" x="1160" y="1671">record type</text>
<text class="gold" x="1427" y="1685">next_record</text>
</g>
<g id="null-list">
<rect x="295" y="1511" width="207" height="234" fill="#fff"/>
<path class="br" d="M300 1538Q300 1521 308 1521H391Q399 1521 399 1511Q399 1521 407 1521H488Q496 1521 496 1538"/>
<g font-size="18" fill="#e0a030" text-anchor="middle" dominant-baseline="central"><text x="418" y="1549">c1</text><text x="451" y="1549">c3</text><text x="481" y="1549">c4</text></g>
<path class="hair" d="M418 1563L472 1660" marker-end="url(#ahs)"/>
<path class="hair" d="M451 1563L452 1660" marker-end="url(#ahs)"/>
<path class="hair" d="M481 1563L432 1660" marker-end="url(#ahs)"/>
<rect x="307" y="1664" width="179" height="27" fill="#5b9bd5" stroke="#41719c" stroke-width="1"/>
<path stroke="#41719c" stroke-width="1" d="M329.4 1664V1691M351.8 1664V1691M374.2 1664V1691M396.6 1664V1691M419 1664V1691M441.4 1664V1691M463.8 1664V1691"/>
<g font-size="15" fill="#fff" text-anchor="middle" dominant-baseline="central"><text x="318.2" y="1678">0</text><text x="340.6" y="1678">0</text><text x="363" y="1678">0</text><text x="385.4" y="1678">0</text><text x="407.8" y="1678">0</text><text x="430.2" y="1678">1</text><text x="452.6" y="1678">1</text><text x="475" y="1678">0</text></g>
<path fill="none" stroke="#8fc87a" stroke-width="1.5" d="M307 1693V1700H486V1693M399 1700V1710"/>
<text class="gold" x="399" y="1727">1个字节</text>
</g>
</g>

<!-- Bottom right: slot detail -->
<g id="slot-detail">
<rect x="2273" y="1244" width="981" height="550" fill="#fff"/>
<rect class="slotcol" x="2322" y="1261" width="61" height="492" rx="14"/>
<rect class="slot" x="2332" y="1288" width="40" height="34"/><circle cx="2352" cy="1305" r="3.5"/>
<rect class="slot" x="2332" y="1379" width="40" height="34"/><circle cx="2352" cy="1396" r="3.5"/>
<text class="sl" x="2302" y="1307">槽0</text><text class="sl" x="2302" y="1396">槽1</text>
<g id="detail-group0">
<rect class="grp" x="2428" y="1288" width="570" height="59" rx="14"/>
<text class="lbl" x="2447" y="1320">最小记录：</text>
<rect class="rb" x="2528" y="1310" width="37" height="27"/><rect class="rb" x="2565" y="1310" width="35" height="27"/><rect class="rb" x="2600" y="1310" width="35" height="27"/><rect class="rb" x="2635" y="1310" width="32" height="27"/><rect class="rb" x="2667" y="1310" width="38" height="27"/><rect class="rb" x="2705" y="1310" width="42" height="27"/><rect class="ro" x="2747" y="1310" width="60" height="27"/>
<g class="rt"><text x="2546.5" y="1323.5">0</text><text x="2582.5" y="1323.5">0</text><text x="2617.5" y="1323.5">1</text><text x="2651" y="1323.5">0</text><text x="2686" y="1323.5">2</text><text x="2777" y="1323.5">'infimum'</text></g>
<circle cx="2726" cy="1323.5" r="3.2"/>
<g class="tiny"><text x="2546" y="1304">delete_mask</text><text x="2582" y="1304">min_rec_mask</text><text x="2617" y="1304">n_owned</text><text x="2651" y="1304">heap_no</text><text x="2686" y="1304">record_type</text><text x="2726" y="1304">next_record</text></g>
</g>
<g id="detail-group1">
<rect class="grp" x="2428" y="1371" width="570" height="371" rx="40"/>
<use href="#recB" x="2484" y="1405"/><use href="#recB" x="2484" y="1479"/><use href="#recB" x="2484" y="1550"/><use href="#recB" x="2484" y="1623"/>
<g class="rt">
<text x="2506" y="1418.5">0</text><text x="2548.5" y="1418.5">0</text><text x="2589.5" y="1418.5">0</text><text x="2631.5" y="1418.5">2</text><text x="2674" y="1418.5">0</text><text x="2777" y="1418.5">1</text><text x="2836.5" y="1418.5">100</text><text x="2896.5" y="1418.5">'aaaa'</text><text x="2957.5" y="1418.5">其他信息</text>
<text x="2506" y="1492.5">0</text><text x="2548.5" y="1492.5">0</text><text x="2589.5" y="1492.5">0</text><text x="2631.5" y="1492.5">3</text><text x="2674" y="1492.5">0</text><text x="2777" y="1492.5">2</text><text x="2836.5" y="1492.5">200</text><text x="2896.5" y="1492.5">'bbbb'</text><text x="2957.5" y="1492.5">其他信息</text>
<text x="2506" y="1563.5">0</text><text x="2548.5" y="1563.5">0</text><text x="2589.5" y="1563.5">0</text><text x="2631.5" y="1563.5">4</text><text x="2674" y="1563.5">0</text><text x="2777" y="1563.5">3</text><text x="2836.5" y="1563.5">300</text><text x="2896.5" y="1563.5">'cccc'</text><text x="2957.5" y="1563.5">其他信息</text>
<text x="2506" y="1636.5">0</text><text x="2548.5" y="1636.5">0</text><text x="2589.5" y="1636.5">0</text><text x="2631.5" y="1636.5">5</text><text x="2674" y="1636.5">0</text><text x="2777" y="1636.5">4</text><text x="2836.5" y="1636.5">400</text><text x="2896.5" y="1636.5">'dddd'</text><text x="2957.5" y="1636.5">其他信息</text>
</g>
<text class="lbl" x="2447" y="1720">最大记录：</text>
<rect class="rb" x="2535" y="1707" width="36" height="26"/><rect class="rb" x="2571" y="1707" width="37" height="26"/><rect class="rb" x="2608" y="1707" width="34" height="26"/><rect class="rb" x="2642" y="1707" width="33" height="26"/><rect class="rb" x="2675" y="1707" width="37" height="26"/><rect class="rb" x="2712" y="1707" width="41" height="26"/><rect class="ro" x="2753" y="1707" width="72" height="26"/>
<g class="rt"><text x="2553" y="1720">0</text><text x="2589.5" y="1720">0</text><text x="2625" y="1720">5</text><text x="2658.5" y="1720">1</text><text x="2693.5" y="1720">3</text><text x="2732.5" y="1720">0</text><text x="2789" y="1720">'supremum'</text></g>
<g class="tiny"><text x="2553" y="1701">delete_mask</text><text x="2589" y="1701">min_rec_mask</text><text x="2625" y="1701">n_owned</text><text x="2658" y="1701">heap_no</text><text x="2693" y="1701">record_type</text><text x="2732" y="1701">next_record</text></g>
</g>
<g id="detail-chain">
<path class="kp" d="M2726 1323V1362H2747V1403" marker-end="url(#ahs)"/>
<path class="kp" d="M2721 1418V1453H2747V1477" marker-end="url(#ahs)"/>
<path class="kp" d="M2721 1492V1527H2747V1548" marker-end="url(#ahs)"/>
<path class="kp" d="M2721 1563V1598H2747V1621" marker-end="url(#ahs)"/>
<path class="kp" d="M2721 1636V1678H2753V1705" marker-end="url(#ahs)"/>
<path class="bp" d="M2352 1305H2405V1267H2747V1308" marker-end="url(#ahb)"/>
<path class="bp" d="M2352 1396H2402V1771H2753V1735" marker-end="url(#ahb)"/>
</g>
<path class="br" d="M3000 1288Q3025 1288 3025 1298V1309Q3025 1317 3052 1317Q3025 1317 3025 1325V1337Q3025 1347 3000 1347"/>
<path class="br" d="M3000 1370Q3025 1370 3025 1382V1546Q3025 1556 3052 1556Q3025 1556 3025 1566V1729Q3025 1741 3000 1741"/>
<text class="lbl" x="3071" y="1318">这1条记录是一个分组</text>
<text class="lbl" x="3071" y="1556">这5条记录是一个分组</text>
</g>

<!-- Connectors -->
<g id="connectors">
<path class="cn" d="M1303 266H1372V102H1466" marker-end="url(#ah)"/>
<path class="cn" d="M1303 306H1408V529H1466" marker-end="url(#ah)"/>
<path class="cn" d="M1318 385H1333V924H1215" marker-end="url(#ah)"/>
<path class="cn" d="M1098 513H1060V574H269V616" marker-end="url(#ah)"/>
<path class="cn" d="M1303 546H1326A7 7 0 0 1 1340 546H1413V1150H1466" marker-end="url(#ah)"/>
<path class="cn" d="M2156 358Q2170 358 2170 368V371Q2170 377 2183 377Q2170 377 2170 383V388Q2170 397 2156 397"/>
<path class="cn" d="M2183 377H2193A7 7 0 0 1 2207 377H2218V71H2270" marker-end="url(#ah)"/>
<path class="cn" d="M2156 273H2200V567H2243" marker-end="url(#ah)"/>
<path class="cn" d="M2155 1039H2179V876H2211" marker-end="url(#ah)"/>
<path class="cn" d="M2155 1067H2179V1039"/>
<path class="cn" d="M1654 1557H1690V1342H1741" marker-end="url(#ah)"/>
<path class="bp" d="M281 651H330V611H569V631" marker-end="url(#ahb)"/>
<path class="bp" d="M281 737H781V751" marker-end="url(#ahb)"/>
<path class="bp" d="M281 835H342V859H781V873" marker-end="url(#ahb)"/>
<path class="bp" d="M281 930H338V983H781V996" marker-end="url(#ahb)"/>
<path class="bp" d="M281 1031H336V1153H722V1179" marker-end="url(#ahb)"/>
</g>
</svg>
